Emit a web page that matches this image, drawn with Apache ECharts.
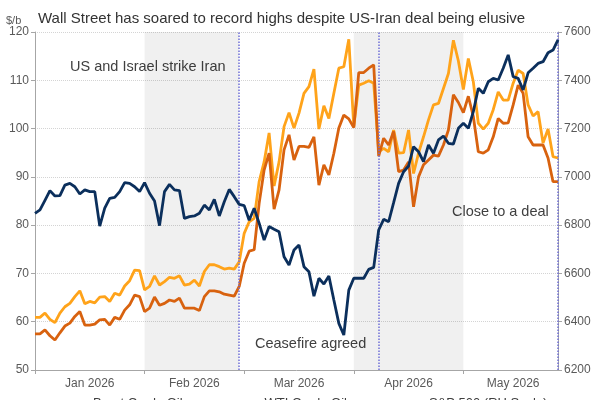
<!DOCTYPE html>
<html>
<head>
<meta charset="utf-8">
<script src="https://cdn.jsdelivr.net/npm/echarts@6/dist/echarts.min.js"></script>
<style>
  html, body { margin: 0; padding: 0; background: #fff; }
  #chart { width: 600px; height: 400px; }
</style>
</head>
<body>
<div id="chart"></div>
<script>
// trading days Jan 1 - May 28 2026 (weekdays)
function tradingDays(from, to) {
  var out = [];
  var d = new Date(from + 'T00:00:00Z');
  var end = new Date(to + 'T00:00:00Z');
  while (d <= end) {
    var wd = d.getUTCDay();
    if (wd !== 0 && wd !== 6) out.push(d.toISOString().slice(0, 10));
    d.setUTCDate(d.getUTCDate() + 1);
  }
  return out;
}
var days = tradingDays('2026-01-01', '2026-05-28');

var brent = [
  60.9, 60.9, 61.8, 60.5, 59.8, 61.8, 63.1, 63.8, 65.2, 66.4,
  63.7, 64.2, 63.9, 65.1, 65.2, 64.2, 65.9, 65.5, 67.4, 68.5,
  70.7, 70.6, 66.6, 67.3, 69.5, 67.6, 68.3, 69.2, 69.0, 69.5,
  67.6, 67.8, 68.6, 67.4, 70.4, 71.8, 71.8, 71.4, 70.9, 71.1,
  70.9, 72.4, 78.3, 80.7, 81.4, 89.0, 93.1, 99.1, 88.1, 93.1,
  100.4, 103.3, 100.1, 103.2, 107.3, 108.7, 112.3, 99.9, 104.7, 102.1,
  107.3, 112.5, 112.8, 118.5, 100.4, 109.0, 109.4, 109.9, 109.4, 95.2,
  95.9, 95.2, 99.7, 94.9, 95.0, 99.7, 90.7, 94.9, 98.3, 101.8,
  104.9, 105.2, 108.3, 111.4, 118.3, 114.0, 108.1, 114.5, 109.7, 101.1,
  99.9, 101.1, 103.9, 107.6, 105.9, 105.9, 109.4, 112.1, 111.4, 104.9,
  102.6, 103.5, 97.0, 99.9, 94.2, 93.9
];
var wti = [
  57.5, 57.5, 58.3, 57.1, 56.2, 57.7, 59.1, 59.7, 61.1, 62.1,
  59.3, 59.3, 59.5, 60.4, 60.5, 59.3, 60.9, 60.5, 62.4, 63.5,
  65.5, 65.2, 62.1, 62.8, 65.1, 63.4, 63.8, 64.5, 64.2, 64.9,
  62.8, 62.8, 62.8, 62.3, 65.2, 66.4, 66.4, 66.2, 65.7, 65.5,
  65.3, 67.3, 72.1, 74.6, 74.9, 84.5, 91.4, 94.9, 83.3, 87.3,
  95.6, 98.7, 93.5, 96.3, 96.3, 96.1, 98.3, 88.3, 92.5, 90.4,
  94.9, 100.1, 102.8, 102.0, 100.2, 111.6, 111.6, 112.5, 113.2, 94.3,
  98.0, 96.6, 99.4, 91.1, 91.4, 93.1, 83.8, 90.0, 92.5, 93.5,
  94.5, 94.3, 96.6, 99.7, 107.0, 105.4, 103.3, 106.7, 102.5, 95.2,
  94.9, 95.6, 98.3, 102.1, 101.1, 101.2, 104.9, 109.0, 107.3, 98.3,
  96.6, 96.6, 96.6, 93.9, 89.0, 89.0
];
var spx = [
  6849, 6863, 6903, 6943, 6921, 6922, 6966, 6973, 6959, 6929,
  6946, 6939, 6939, 6796, 6870, 6911, 6915, 6939, 6976, 6973,
  6959, 6939, 6976, 6932, 6900, 6798, 6939, 6969, 6946, 6943,
  6828, 6835, 6838, 6849, 6883, 6863, 6907, 6838, 6897, 6948,
  6918, 6886, 6881, 6820, 6870, 6808, 6738, 6794, 6783, 6773,
  6669, 6635, 6697, 6718, 6628, 6607, 6506, 6580, 6556, 6589,
  6490, 6393, 6345, 6531, 6580, 6580, 6580, 6617, 6625, 6780,
  6824, 6814, 6893, 6973, 7021, 7045, 7125, 7104, 7063, 7132,
  7098, 7153, 7169, 7139, 7136, 7201, 7222, 7201, 7270, 7367,
  7346, 7394, 7408, 7401, 7450, 7505, 7415, 7408, 7360, 7431,
  7450, 7470, 7477, 7514, 7525, 7567
];

var eventDays = ['2026-02-27', '2026-04-08', '2026-05-28'];
var shadedSpans = [['2026-02-02', '2026-02-27'], ['2026-04-01', '2026-05-01']];
var monthNames = ['Jan', 'Feb', 'Mar', 'Apr', 'May', 'Jun', 'Jul', 'Aug', 'Sep', 'Oct', 'Nov', 'Dec'];

// first trading day of each month -> tick, middle of month -> label
var monthStarts = [];
days.forEach(function (d, i) {
  if (i === 0 || d.slice(5, 7) !== days[i - 1].slice(5, 7)) monthStarts.push(i);
});
var tickIdx = {}, labelIdx = {};
monthStarts.forEach(function (s, k) {
  var next = k + 1 < monthStarts.length ? monthStarts[k + 1] : days.length;
  tickIdx[s] = true;
  labelIdx[Math.round((s + next) / 2)] = true;
});

var chart = echarts.init(document.getElementById('chart'), null, { renderer: 'canvas' });
var font = 'Liberation Sans, Arial, sans-serif';
var axisGrey = '#a6a6a6';
var labelCol = '#595959';

var option = {
  backgroundColor: '#fff',
  textStyle: { fontFamily: font },
  animation: false,
  title: {
    text: 'Wall Street has soared to record highs despite US-Iran deal being elusive',
    left: 33, top: 6,
    textStyle: { fontSize: 15, fontWeight: 'normal', color: '#333', fontFamily: font }
  },
  legend: {
    top: 392, left: 58,
    itemGap: 52, itemWidth: 25, itemHeight: 3, icon: 'rect',
    textStyle: { fontSize: 13, color: '#404040' },
    data: ['Brent Crude Oil', 'WTI Crude Oil', 'S&P 500 (RH Scale)']
  },
  grid: { left: 35, right: 42, top: 32, bottom: 30, containLabel: false },
  xAxis: {
    type: 'category',
    data: days,
    boundaryGap: false,
    axisLine: { lineStyle: { color: axisGrey } },
    axisTick: {
      length: 4,
      lineStyle: { color: axisGrey },
      interval: function (i) { return !!tickIdx[i]; }
    },
    axisLabel: {
      margin: 8, fontSize: 12, color: labelCol,
      interval: function (i) { return !!labelIdx[i]; },
      formatter: function (v) { return monthNames[+v.slice(5, 7) - 1] + ' ' + v.slice(0, 4); }
    },
    splitLine: { show: false }
  },
  yAxis: [
    {
      type: 'value', position: 'left', min: 50, max: 120, interval: 10,
      axisLine: { show: true, lineStyle: { color: axisGrey } },
      axisTick: { show: true, length: 4, lineStyle: { color: axisGrey } },
      axisLabel: { fontSize: 12, color: labelCol, margin: 6 },
      splitLine: { lineStyle: { color: '#d4d4d4', type: 'dotted' } }
    },
    {
      type: 'value', position: 'right', min: 6200, max: 7600, interval: 200,
      axisLine: { show: true, lineStyle: { color: axisGrey } },
      axisTick: { show: true, length: 4, lineStyle: { color: axisGrey } },
      axisLabel: { fontSize: 12, color: labelCol, margin: 6, formatter: function (v) { return String(v); } },
      splitLine: { show: false }
    }
  ],
  graphic: [
    { type: 'text', left: 6, top: 15, style: { text: '$/b', fontSize: 11, fill: labelCol, fontFamily: font } },
    { type: 'text', left: 70, top: 59, style: { text: 'US and Israel strike Iran', fontSize: 14.5, fill: '#404040', fontFamily: font } },
    { type: 'text', left: 255, top: 336, style: { text: 'Ceasefire agreed', fontSize: 14.5, fill: '#404040', fontFamily: font } },
    { type: 'text', left: 452, top: 204, style: { text: 'Close to a deal', fontSize: 14.5, fill: '#404040', fontFamily: font } }
  ],
  series: [
    {
      name: 'Brent Crude Oil', type: 'line', data: brent, yAxisIndex: 0,
      showSymbol: false, symbol: 'none',
      lineStyle: { width: 2.8, color: '#ffa31a' }, itemStyle: { color: '#ffa31a' },
      markArea: {
        silent: true,
        itemStyle: { color: 'rgba(0,0,0,0.06)' },
        data: shadedSpans.map(function (s) { return [{ xAxis: s[0] }, { xAxis: s[1] }]; })
      },
      z: 3
    },
    {
      name: 'WTI Crude Oil', type: 'line', data: wti, yAxisIndex: 0,
      showSymbol: false, symbol: 'none',
      lineStyle: { width: 2.8, color: '#d8620f' }, itemStyle: { color: '#d8620f' },
      z: 4
    },
    {
      name: 'S&P 500 (RH Scale)', type: 'line', data: spx, yAxisIndex: 1,
      showSymbol: false, symbol: 'none',
      lineStyle: { width: 2.8, color: '#0b2f5c' }, itemStyle: { color: '#0b2f5c' },
      markLine: {
        silent: true, symbol: 'none',
        label: { show: false },
        lineStyle: { type: 'dotted', color: '#6f6fd6', width: 1.5 },
        data: eventDays.map(function (d) { return { xAxis: d }; })
      },
      z: 5
    }
  ]
};
chart.setOption(option);
</script>
</body>
</html>
